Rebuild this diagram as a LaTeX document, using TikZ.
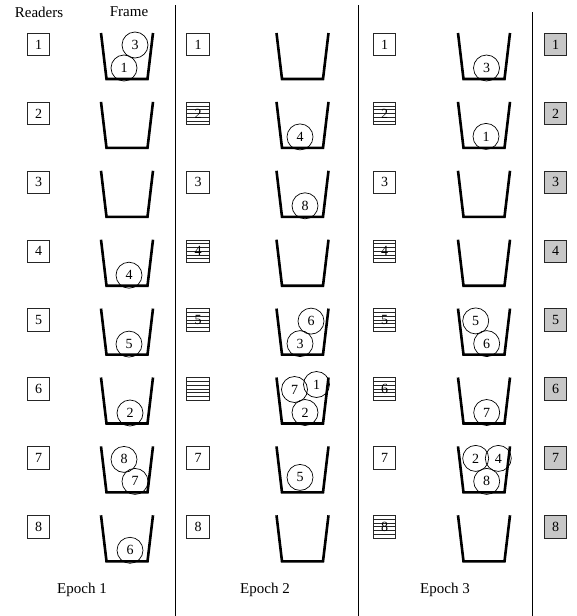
\documentclass[tikz,border=0pt]{standalone}
\usepackage{fontspec}
\setmainfont{Liberation Serif}
\newcommand\rowgap{68.9}
\newcommand\putbucket[3]{% name, column x, row
  \coordinate (#1) at ({#2},{79+(#3-1)*\rowgap});
  \draw[bucketline] ([xshift=-26pt,yshift=46pt]#1) -- ([xshift=-20.5pt]#1) -- ([xshift=20.5pt]#1) -- ([xshift=26pt,yshift=46pt]#1);}
\newcommand\putball[6]{% name, column x, row, dx, dy, label
  \node[ball] (#1) at ({#2+#4},{79+(#3-1)*\rowgap+#5}) {#6};}
\newcommand\putbox[5]{% name, style, column x, row, label
  \node[#2] (#1) at ({#3},{44.5+(#4-1)*\rowgap}) {#5};}
\begin{document}
\begin{tikzpicture}[x=1pt,y=-1pt,
  txt/.style={font=\fontsize{15}{17}\selectfont, inner sep=0},
  rbox/.style={draw=black!85, line width=0.75pt, minimum size=22.5pt, inner sep=0, font=\fontsize{14}{16}\selectfont},
  sbox/.style={rbox, path picture={\foreach \k in {1,...,5} \draw[line width=0.75pt] ([yshift=-\k*3.75pt]path picture bounding box.north west) -- ([yshift=-\k*3.75pt]path picture bounding box.north east);}},
  gbox/.style={rbox, fill=black!22},
  ball/.style={circle, draw, line width=0.7pt, minimum size=26pt, inner sep=0, font=\fontsize{14}{16}\selectfont},
  bucketline/.style={line width=2.6pt, line join=miter},
  sepline/.style={line width=1pt}]
\useasboundingbox (0,0) rectangle (577,616);

% headers
\node[txt] (hreaders) at (39,12) {Readers};
\node[txt] (hframe) at (129,12) {Frame};

% separators
\coordinate (s1t) at (175,5);   \coordinate (s1b) at (175,616);
\coordinate (s2t) at (358,5);   \coordinate (s2b) at (358,616);
\coordinate (s3t) at (532,12);  \coordinate (s3b) at (532,616);
\draw[sepline] (s1t) -- (s1b);
\draw[sepline] (s2t) -- (s2b);
\draw[sepline] (s3t) -- (s3b);

% buckets
\foreach \r in {1,...,8} {
  \putbucket{ba\r}{127}{\r}
  \putbucket{bb\r}{302.5}{\r}
  \putbucket{bc\r}{484}{\r}
}

% epoch 1 readers
\foreach \r in {1,...,8} { \putbox{ra\r}{rbox}{38.5}{\r}{\r} }
% epoch 2 readers
\putbox{rb1}{rbox}{198}{1}{1}
\putbox{rb2}{sbox}{198}{2}{2}
\putbox{rb3}{rbox}{198}{3}{3}
\putbox{rb4}{sbox}{198}{4}{4}
\putbox{rb5}{sbox}{198}{5}{5}
\putbox{rb6}{sbox}{198}{6}{}
\putbox{rb7}{rbox}{198}{7}{7}
\putbox{rb8}{rbox}{198}{8}{8}
% epoch 3 readers
\putbox{rc1}{rbox}{384.5}{1}{1}
\putbox{rc2}{sbox}{384.5}{2}{2}
\putbox{rc3}{rbox}{384.5}{3}{3}
\putbox{rc4}{sbox}{384.5}{4}{4}
\putbox{rc5}{sbox}{384.5}{5}{5}
\putbox{rc6}{sbox}{384.5}{6}{6}
\putbox{rc7}{rbox}{384.5}{7}{7}
\putbox{rc8}{sbox}{384.5}{8}{8}
% final readers
\foreach \r in {1,...,8} { \putbox{rd\r}{gbox}{555.5}{\r}{\r} }

% epoch 1 frames
\putball{a11}{127}{1}{-3}{-11}{1}
\putball{a13}{127}{1}{8}{-34}{3}
\putball{a44}{127}{4}{2}{-10.5}{4}
\putball{a55}{127}{5}{2}{-10.5}{5}
\putball{a62}{127}{6}{3}{-10.5}{2}
\putball{a78}{127}{7}{-3}{-33}{8}
\putball{a77}{127}{7}{8}{-11}{7}
\putball{a86}{127}{8}{3}{-11}{6}
% epoch 2 frames
\putball{b24}{302.5}{2}{-2.5}{-11}{4}
\putball{b38}{302.5}{3}{2.5}{-11}{8}
\putball{b53}{302.5}{5}{-2.5}{-11}{3}
\putball{b56}{302.5}{5}{8.5}{-33.5}{6}
\putball{b67}{302.5}{6}{-8}{-34}{7}
\putball{b61}{302.5}{6}{14}{-39}{1}
\putball{b62}{302.5}{6}{2.5}{-11}{2}
\putball{b75}{302.5}{7}{-2.5}{-15}{5}
% epoch 3 frames
\putball{c13}{484}{1}{2.5}{-11}{3}
\putball{c21}{484}{2}{2}{-11.5}{1}
\putball{c55}{484}{5}{-8.3}{-33.7}{5}
\putball{c56}{484}{5}{2.7}{-11}{6}
\putball{c67}{484}{6}{2.7}{-11}{7}
\putball{c72}{484}{7}{-8.3}{-34}{2}
\putball{c74}{484}{7}{14.3}{-34}{4}
\putball{c78}{484}{7}{2.7}{-11}{8}

% epoch labels
\node[txt] (e1) at (82,590) {Epoch 1};
\node[txt] (e2) at (265,590) {Epoch 2};
\node[txt] (e3) at (445,590) {Epoch 3};
\end{tikzpicture}
\end{document}
